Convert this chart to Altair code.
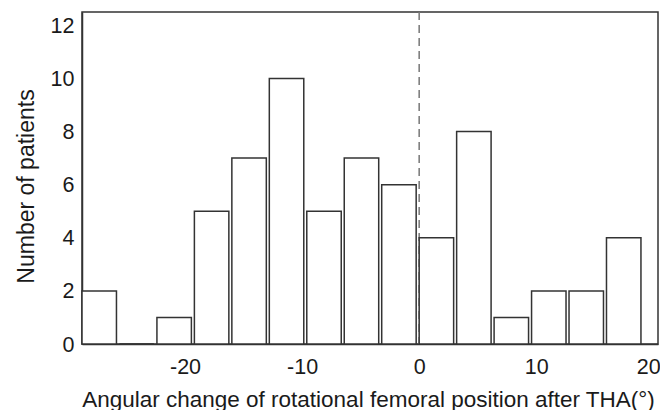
import altair as alt
import pandas as pd

# Histogram bins (degrees) and counts
bin_start = [-28.8, -25.6, -22.4, -19.2, -16.0, -12.8, -9.6, -6.4, -3.2, 0.0, 3.2, 6.4, 9.6, 12.8, 16.0]
bin_end = [-25.6, -22.4, -19.2, -16.0, -12.8, -9.6, -6.4, -3.2, 0.0, 3.2, 6.4, 9.6, 12.8, 16.0, 19.2]
counts = [2, 0, 1, 5, 7, 10, 5, 7, 6, 4, 8, 1, 2, 2, 4]
x_ticks = [-20, -10, 0, 10, 20]
y_ticks = [0, 2, 4, 6, 8, 10, 12]
ref_line = [0]
x_domain = [-28.8, 20.4]
y_domain = [0, 12.5]

FONT = "Liberation Sans"

bars_df = pd.DataFrame({"start": bin_start, "end": bin_end, "count": counts})
ref_df = pd.DataFrame({"x": ref_line})

x_scale = alt.Scale(domain=x_domain, nice=False, zero=False)
y_scale = alt.Scale(domain=y_domain, nice=False)

x_axis = alt.Axis(
    values=x_ticks, ticks=False, grid=False, labelFlush=False,
    labelExpr="'' + datum.value",
    labelFontSize=21.5, labelFont=FONT, labelColor="#1a1a1a",
    labelPadding=12, labelBaseline="top",
    labelOffset={"condition": {"test": "datum.value == 20", "value": -5}, "value": 0},
    domainColor="#333333", domainWidth=1.5,
    title="Angular change of rotational femoral position after THA(°)",
    titleFont=FONT, titleFontSize=22.5, titleFontWeight="normal", titleColor="#1a1a1a",
    titleX=286, titleY=62, titleBaseline="alphabetic", titleAlign="center",
)
y_axis = alt.Axis(
    values=y_ticks, ticks=False, grid=False,
    labelFontSize=21.5, labelFont=FONT, labelColor="#1a1a1a",
    labelPadding=8, labelBaseline="middle", labelOffset=1,
    domainColor="#333333", domainWidth=1.5,
    title="Number of patients",
    titleFont=FONT, titleFontSize=23, titleFontWeight="normal", titleColor="#1a1a1a",
    titleX=-49, titleY=174, titleBaseline="alphabetic", titleAlign="center", titleAngle=270,
)

rule = alt.Chart(ref_df).mark_rule(
    color="#777777", strokeDash=[8, 5], strokeWidth=1.5
).encode(x=alt.X("x:Q", scale=x_scale, axis=x_axis))

bars = alt.Chart(bars_df).mark_bar(
    fill="white", stroke="#333333", strokeWidth=1.5, x2Offset=-3
).encode(
    x=alt.X("start:Q", scale=x_scale, axis=x_axis),
    x2="end:Q",
    y=alt.Y("count:Q", scale=y_scale, axis=y_axis),
    y2=alt.datum(0),
)

chart = alt.layer(rule, bars).properties(
    width=576, height=332,
    padding={"left": 74, "top": 4, "right": 2, "bottom": 66},
    autosize=alt.AutoSizeParams(type="none"),
).configure_view(stroke="#333333", strokeWidth=1.5)

chart.save("out.html", embed_options={"renderer": "svg", "actions": False})
